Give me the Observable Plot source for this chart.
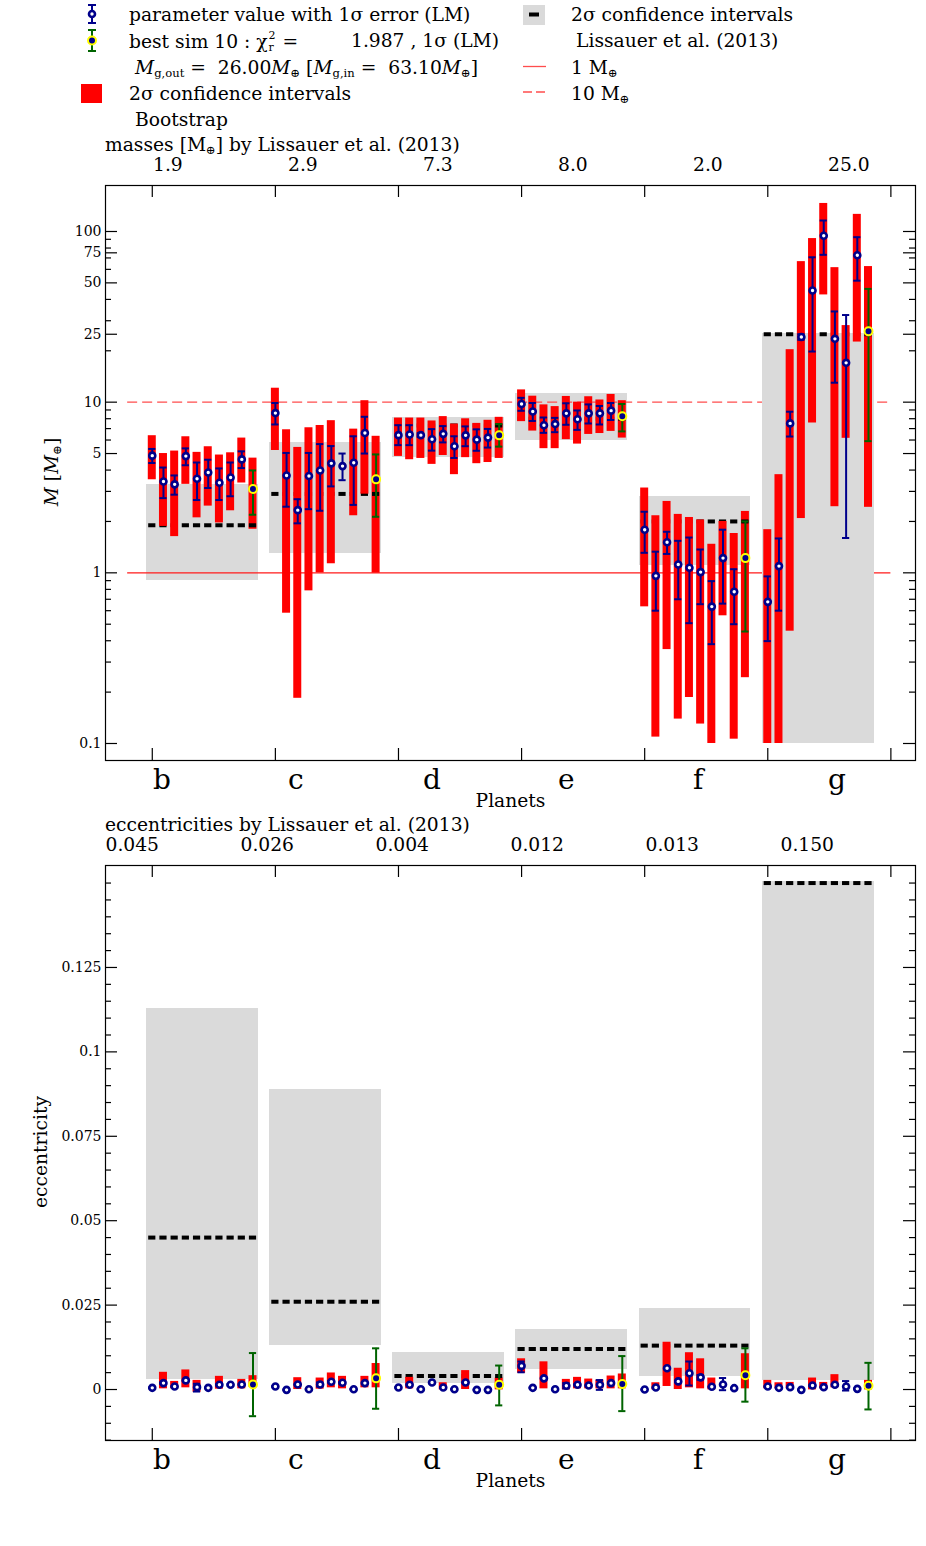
<!DOCTYPE html>
<html><head><meta charset="utf-8">
<script src="https://cdn.jsdelivr.net/npm/d3@7"></script>
<script src="https://cdn.jsdelivr.net/npm/@observablehq/plot@0.6"></script>
<style>
html,body{margin:0;padding:0;background:#fff;}
#wrap{position:relative;width:926px;height:1546px;overflow:hidden;font-family:"DejaVu Serif",serif;color:#000;}
.t{position:absolute;white-space:nowrap;font-size:18.7px;line-height:19px;transform:translateY(-50%);}
.t sub{font-size:0.62em;vertical-align:-0.3em;line-height:0;}
.rot{position:absolute;white-space:nowrap;font-size:18.7px;line-height:19px;transform:translate(-50%,-50%) rotate(-90deg);}
.rot sub{font-size:0.62em;vertical-align:-0.3em;line-height:0;}
.ss{display:inline-block;position:relative;width:9px;height:19px;vertical-align:baseline;}
.ss .sp,.ss .sb{position:absolute;left:1px;font-size:11px;line-height:11px;}
.ss .sp{top:1px;}
.ss .sb{top:13px;}
svg.leg{position:absolute;left:0;top:0;}
.pbox{position:absolute;left:0;}
</style></head>
<body><div id="wrap"></div>
<script>
// ---------- data ----------
const planets = ["b", "c", "d", "e", "f", "g"];
const lissMass = [1.9, 2.9, 7.3, 8.0, 2.0, 25.0];
const lissEcc = [0.045, 0.026, 0.004, 0.012, 0.013, 0.150];
const lissMassLabels = ["1.9", "2.9", "7.3", "8.0", "2.0", "25.0"];
const lissEccLabels = ["0.045", "0.026", "0.004", "0.012", "0.013", "0.150"];
// Lissauer et al. 2σ intervals (grey boxes)
const lissMassLo = [0.90, 1.30, 4.75, 5.95, 1.10, 0.10];
const lissMassHi = [3.28, 5.78, 8.10, 11.3, 2.79, 25.1];
const lissEccLo = [0.0029, 0.0129, 0.0017, 0.0058, 0.0039, 0.0027];
const lissEccHi = [0.1129, 0.0889, 0.0109, 0.0178, 0.0240, 0.1505];

// masses: LM parameter value (sims 1..10, last = best sim 10)
const massPt = [
  [4.86, 3.43, 3.30, 4.83, 3.56, 3.87, 3.37, 3.62, 4.62, 3.10],
  [8.63, 3.72, 2.33, 3.69, 3.98, 4.38, 4.22, 4.42, 6.59, 3.53],
  [6.41, 6.47, 6.41, 6.06, 6.52, 5.52, 6.39, 6.03, 6.20, 6.39],
  [9.76, 8.82, 7.33, 7.44, 8.60, 7.94, 8.60, 8.60, 8.92, 8.26],
  [1.79, 0.96, 1.51, 1.12, 1.07, 1.01, 0.634, 1.22, 0.774, 1.22],
  [0.676, 1.095, 7.51, 24.1, 45.1, 94.4, 23.5, 17.0, 72.6, 26.0]
];
const massErrLo = [
  [4.40, 2.74, 2.87, 4.27, 2.67, 3.14, 2.67, 2.81, 4.11, 2.19],
  [7.40, 2.44, 1.95, 2.36, 2.31, 3.21, 3.49, 2.50, 5.00, 2.13],
  [5.60, 5.60, 6.25, 5.20, 5.81, 4.71, 5.52, 5.19, 5.42, 5.49],
  [8.90, 7.76, 6.61, 6.67, 7.37, 6.88, 7.50, 7.40, 7.86, 6.74],
  [1.31, 0.60, 1.29, 0.70, 0.507, 0.655, 0.382, 0.66, 0.50, 0.453],
  [0.398, 0.60, 6.29, 23.2, 19.8, 73.0, 13.0, 1.60, 51.5, 5.91]
];
const massErrHi = [
  [5.32, 4.14, 3.72, 5.36, 4.43, 4.60, 4.09, 4.43, 5.15, 3.98],
  [9.89, 5.04, 2.70, 5.04, 5.68, 5.53, 5.00, 6.31, 8.21, 4.94],
  [7.33, 7.33, 6.58, 6.95, 7.24, 6.31, 7.21, 6.93, 6.97, 7.44],
  [10.6, 9.89, 8.13, 8.09, 9.85, 8.94, 9.70, 9.50, 9.89, 9.76],
  [2.28, 1.33, 1.74, 1.54, 1.61, 1.37, 0.894, 1.79, 1.05, 2.00],
  [0.953, 1.59, 8.79, 25.0, 70.6, 116, 34.0, 32.4, 92.6, 46.1]
];
// masses: bootstrap 2σ intervals (red)
const massBootLo = [
  [3.51, 1.87, 1.63, 3.30, 2.10, 2.46, 1.96, 2.31, 3.36, 1.80],
  [5.21, 0.58, 0.184, 0.784, 1.00, 1.13, null, 2.16, 2.89, 0.996],
  [4.81, 4.60, 4.68, 4.32, 4.87, 3.76, 4.73, 4.36, 4.43, 4.68],
  [7.69, 6.77, 5.34, 5.34, 6.03, 5.68, 6.47, 6.55, 6.74, 6.16],
  [0.632, 0.109, 0.355, 0.139, 0.186, 0.130, 0.100, 0.56, 0.106, 0.243],
  [0.100, 0.100, 0.455, 2.08, 7.55, 42.5, 2.44, 6.14, 22.5, 2.42]
];
const massBootHi = [
  [6.36, 5.00, 5.17, 6.27, 5.08, 5.48, 4.90, 5.05, 6.16, 4.70],
  [12.07, 6.89, 5.43, 7.08, 7.30, 7.79, null, 6.95, 10.2, 6.31],
  [8.07, 8.07, 8.07, 7.76, 8.23, 7.44, 7.99, 7.51, 7.83, 8.15],
  [11.8, 10.84, 9.64, 9.42, 10.8, 10.0, 10.76, 10.3, 11.1, 10.2],
  [3.14, 2.16, 2.62, 2.20, 2.11, 2.04, 1.47, 2.00, 1.70, 2.29],
  [1.79, 3.76, 20.3, 66.6, 90.9, 146, 61.4, 28.1, 126, 62.3]
];

// eccentricities
const eccPt = [
  [0.0005, 0.0019, 0.0009, 0.0027, 0.0007, 0.0005, 0.0014, 0.0014, 0.0015, 0.0015],
  [0.0009, -0.0001, 0.0015, 0.0001, 0.0015, 0.0023, 0.0020, 0.0001, 0.0019, 0.0033],
  [0.0006, 0.0014, 0.0001, 0.0021, 0.0006, 0.0001, 0.0021, -0.0001, -0.0001, 0.0014],
  [0.0070, 0.0005, 0.0033, 0.0001, 0.0011, 0.0014, 0.0012, 0.0014, 0.0019, 0.0016],
  [0.0000, 0.0006, 0.0063, 0.0024, 0.0048, 0.0036, 0.0008, 0.0015, 0.0004, 0.0042],
  [0.0009, 0.0005, 0.0007, -0.0001, 0.0012, 0.0007, 0.0014, 0.0009, 0.0002, 0.0011]
];
const eccErrLo = [
  [0.0004, 0.0017, 0.0008, 0.0025, -0.0006, 0.0004, 0.0012, 0.0012, 0.0013, -0.0079],
  [0.0008, -0.0002, 0.0013, 0.0000, 0.0009, 0.0021, 0.0018, 0.0000, 0.0017, -0.0057],
  [0.0005, 0.0012, 0.0000, 0.0019, 0.0005, 0.0000, 0.0019, -0.0002, -0.0002, -0.0047],
  [0.0051, 0.0004, 0.0031, 0.0000, 0.0003, 0.0012, 0.0010, -0.0001, 0.0017, -0.0064],
  [-0.0001, 0.0005, 0.0061, 0.0022, 0.0012, 0.0029, 0.0007, -0.0002, 0.0003, -0.0036],
  [0.0008, 0.0004, 0.0006, -0.0002, 0.0010, 0.0006, 0.0012, -0.0003, 0.0001, -0.0059]
];
const eccErrHi = [
  [0.0006, 0.0021, 0.0010, 0.0029, 0.0017, 0.0006, 0.0016, 0.0016, 0.0017, 0.0108],
  [0.0010, 0.0000, 0.0017, 0.0002, 0.0021, 0.0025, 0.0022, 0.0002, 0.0021, 0.0122],
  [0.0007, 0.0016, 0.0002, 0.0023, 0.0007, 0.0002, 0.0023, 0.0000, 0.0000, 0.0071],
  [0.0083, 0.0006, 0.0035, 0.0002, 0.0019, 0.0016, 0.0014, 0.0028, 0.0021, 0.0099],
  [0.0001, 0.0007, 0.0065, 0.0026, 0.0083, 0.0043, 0.0009, 0.0034, 0.0005, 0.0122],
  [0.0010, 0.0006, 0.0008, 0.0000, 0.0014, 0.0008, 0.0016, 0.0025, 0.0003, 0.0079]
];
const eccBootLo = [
  [null, 0.0002, 0.0002, 0.0005, -0.0008, null, 0.0001, null, 0.0002, 0.0007],
  [null, null, 0.0000, null, 0.0001, 0.0005, 0.0002, null, 0.0005, 0.0005],
  [null, 0.0002, null, null, -0.0001, null, 0.0000, null, null, -0.0001],
  [0.0048, null, 0.0002, null, -0.0001, 0.0002, 0.0002, 0.0002, 0.0002, 0.0002],
  [null, -0.0001, 0.0009, 0.0000, 0.0005, 0.0002, -0.0001, null, null, 0.0002],
  [0.0002, 0.0002, 0.0002, null, -0.0001, 0.0002, 0.0005, null, null, -0.0001]
];
const eccBootHi = [
  [null, 0.0051, 0.0024, 0.0058, 0.0027, null, 0.0039, null, 0.0030, 0.0041],
  [null, null, 0.0035, null, 0.0034, 0.0049, 0.0039, null, 0.0039, 0.0077],
  [null, 0.0036, null, null, 0.0020, null, 0.0056, null, null, 0.0034],
  [0.0091, null, 0.0082, null, 0.0030, 0.0036, 0.0031, 0.0028, 0.0040, 0.0046],
  [null, 0.0020, 0.0140, 0.0063, 0.0109, 0.0091, 0.0034, null, null, 0.0106],
  [0.0027, 0.0020, 0.0021, null, 0.0034, 0.0021, 0.0044, null, null, 0.0027]
];

// axis ticks
const massTicksLabeled = [0.1, 1, 5, 10, 25, 50, 75, 100];
const massTicksMinor = [0.2, 0.3, 0.4, 0.5, 0.6, 0.7, 0.8, 0.9, 2, 3, 4, 6, 7, 8, 9, 20, 30, 40, 60, 70, 80, 90];
const eccTicksLabeled = [0, 0.025, 0.05, 0.075, 0.1, 0.125];
const eccTicksMinor = [-0.015, -0.01, -0.005, 0.005, 0.01, 0.015, 0.02, 0.03, 0.035, 0.04, 0.045, 0.055, 0.06, 0.065, 0.07,
  0.08, 0.085, 0.09, 0.095, 0.105, 0.11, 0.115, 0.12, 0.13, 0.135, 0.14, 0.145, 0.15];
const xTicks = [1, 2, 3, 4, 5, 6, 7];
const refMasses = [1, 10];

// ---------- layout ----------
const navy = "#00008b", green = "#006400", yel = "#ffff00";
const X0 = 0.62, X1 = 7.2, W = 926, ML = 105, MR = 11, MT = 55, FH = 575;
const FW = W - ML - MR;
const kx = (X1 - X0) / FW;
const refStart = 0.8, refEnd = 7;

function buildRows(pt, eLo, eHi, bLo, bHi, gLo, gHi, liss) {
  const rows = [];
  planets.forEach((name, i) => {
    for (let k = 0; k < 10; k++) rows.push({
      p: i, best: k === 9, x: i + 1 + k / 11,
      pt: pt[i][k], eLo: eLo[i][k], eHi: eHi[i][k], bLo: bLo[i][k], bHi: bHi[i][k],
      gLo: gLo[i], gHi: gHi[i], liss: liss[i]
    });
  });
  return rows;
}

function panel(rows, o) {
  const gw = 0.5 / 11, hw = 4 * kx, dw = 3.6 * kx, cw = 3.6 * kx;
  const nb = rows.filter(d => !d.best), bs = rows.filter(d => d.best);
  const lblX = off => (d, i) => X0 + (X1 - X0) * (i + off) / 6;
  const bars = (data, col) => [
    Plot.ruleX(data, {x: "x", y1: "eLo", y2: "eHi", stroke: col, strokeWidth: 2}),
    Plot.ruleY(data, {x1: d => d.x - cw, x2: d => d.x + cw, y: "eLo", stroke: col, strokeWidth: 2}),
    Plot.ruleY(data, {x1: d => d.x - cw, x2: d => d.x + cw, y: "eHi", stroke: col, strokeWidth: 2})
  ];
  const tk = {stroke: "#000", strokeWidth: 1.2};
  const grey = {x1: d => d.x - gw, x2: d => d.x + gw, y1: "gLo", y2: "gHi", fill: "#dadada", shapeRendering: "crispEdges"};
  return Plot.plot({
    width: W, height: MT + FH + o.mb,
    marginLeft: ML, marginRight: MR, marginTop: MT, marginBottom: o.mb,
    style: {fontFamily: "DejaVu Serif", fontSize: "14px", background: "transparent", color: "#000"},
    x: {domain: [X0, X1], axis: null},
    y: {type: o.type, domain: o.domain, axis: null},
    marks: [
      Plot.rect(rows.filter(d => d.p < 5), grey),
      ...o.refs,
      Plot.rect(rows.filter(d => d.p === 5), grey),
      Plot.ruleY(nb, {x1: d => d.x - dw, x2: d => d.x + dw, y: "liss", stroke: "#000", strokeWidth: 4}),
      Plot.rect(rows.filter(d => d.bLo != null && d.bHi != null), {x1: d => d.x - hw, x2: d => d.x + hw, y1: "bLo", y2: "bHi", fill: "#ff0000"}),
      Plot.ruleY(bs, {x1: d => d.x - dw, x2: d => d.x + dw, y: "liss", stroke: "#000", strokeWidth: 4}),
      ...bars(nb, navy),
      ...bars(bs, green),
      Plot.dot(nb, {x: "x", y: "pt", r: 3, fill: "#fff", stroke: navy, strokeWidth: 2.6}),
      Plot.dot(bs, {x: "x", y: "pt", r: 4, fill: navy, stroke: yel, strokeWidth: 2}),
      Plot.frame({stroke: "#000", strokeWidth: 1.2}),
      Plot.tickY(o.labeled, {y: d => d, insetRight: FW - 12, ...tk}),
      Plot.tickY(o.labeled, {y: d => d, insetLeft: FW - 12, ...tk}),
      Plot.tickY(o.minor, {y: d => d, insetRight: FW - 6, ...tk}),
      Plot.tickY(o.minor, {y: d => d, insetLeft: FW - 6, ...tk}),
      Plot.tickX(xTicks, {x: d => d, insetBottom: FH - 12, ...tk}),
      Plot.tickX(xTicks, {x: d => d, insetTop: FH - 12, ...tk}),
      Plot.text(o.labeled, {y: d => d, frameAnchor: "left", dx: -4, textAnchor: "end", fontSize: 14, text: d => String(d)}),
      Plot.text(planets, {x: lblX(0.352), frameAnchor: "bottom", dy: 28, textAnchor: "start", fontSize: 28, text: d => d}),
      Plot.text(["Planets"], {frameAnchor: "bottom", dy: 46, fontSize: 18.7, text: d => d}),
      Plot.text(o.topLabels, {x: lblX(o.topOff), frameAnchor: "top", dy: -28, textAnchor: "start", fontSize: 18.7, text: d => d})
    ]
  });
}

const massRows = buildRows(massPt, massErrLo, massErrHi, massBootLo, massBootHi, lissMassLo, lissMassHi, lissMass);
const eccRows = buildRows(eccPt, eccErrLo, eccErrHi, eccBootLo, eccBootHi, lissEccLo, lissEccHi, lissEcc);

const topPlot = panel(massRows, {
  type: "log", domain: [0.0795, 186], mb: 50,
  labeled: massTicksLabeled, minor: massTicksMinor,
  topLabels: lissMassLabels, topOff: 0.352,
  refs: [
    Plot.ruleY(refMasses.slice(0, 1), {y: d => d, x1: refStart, x2: refEnd, stroke: "#ff1a1a", strokeWidth: 1.2}),
    Plot.ruleY(refMasses.slice(1), {y: d => d, x1: refStart, x2: refEnd, stroke: "#ff4d4d", strokeWidth: 1.2, strokeDasharray: "10,5"})
  ]
});
const botPlot = panel(eccRows, {
  type: "linear", domain: [-0.0151, 0.1552], mb: 60,
  labeled: eccTicksLabeled, minor: eccTicksMinor,
  topLabels: lissEccLabels, topOff: 0,
  refs: []
});

const wrap = document.getElementById("wrap");
const b1 = document.createElement("div"); b1.className = "pbox"; b1.style.top = "130px"; b1.appendChild(topPlot); wrap.appendChild(b1);
const b2 = document.createElement("div"); b2.className = "pbox"; b2.style.top = "810px"; b2.appendChild(botPlot); wrap.appendChild(b2);

// legend swatches
const ns = "http://www.w3.org/2000/svg";
const leg = document.createElementNS(ns, "svg");
leg.setAttribute("class", "leg"); leg.setAttribute("width", 926); leg.setAttribute("height", 130);
leg.innerHTML = `
  <line x1="92" y1="5" x2="92" y2="23" stroke="${navy}" stroke-width="2"/>
  <line x1="88" y1="5" x2="96" y2="5" stroke="${navy}" stroke-width="2"/>
  <line x1="88" y1="23" x2="96" y2="23" stroke="${navy}" stroke-width="2"/>
  <circle cx="92" cy="14" r="3" fill="#fff" stroke="${navy}" stroke-width="2.6"/>
  <line x1="92" y1="30" x2="92" y2="51" stroke="${green}" stroke-width="2"/>
  <line x1="88" y1="30" x2="96" y2="30" stroke="${green}" stroke-width="2"/>
  <line x1="88" y1="51" x2="96" y2="51" stroke="${green}" stroke-width="2"/>
  <circle cx="92" cy="40.5" r="4" fill="${navy}" stroke="${yel}" stroke-width="2"/>
  <rect x="81" y="84" width="21" height="19" fill="#ff0000"/>
  <rect x="523" y="5" width="22" height="20" fill="#dadada"/>
  <rect x="529" y="12.5" width="10" height="4" fill="#000"/>
  <line x1="523" y1="66.5" x2="546" y2="66.5" stroke="#ff4d4d" stroke-width="1.3"/>
  <line x1="523" y1="92" x2="546" y2="92" stroke="#ff4d4d" stroke-width="1.3" stroke-dasharray="9,4"/>`;
wrap.appendChild(leg);

function addText(html, left, cy, cls = "t") {
  const d = document.createElement("div");
  d.className = cls; d.innerHTML = html;
  d.style.left = left + "px"; d.style.top = cy + "px";
  wrap.appendChild(d);
  return d;
}
addText("parameter value with 1σ error (LM)", 129, 14);
addText('best sim 10 : χ<span class="ss"><span class="sp">2</span><span class="sb">r</span></span> =', 129, 40);
addText("1.987 , 1σ (LM)", 351, 40);
addText("<i>M</i><sub>g,out</sub> =&nbsp; 26.00<i>M</i><sub>⊕</sub> [<i>M</i><sub>g,in</sub> =&nbsp; 63.10<i>M</i><sub>⊕</sub>]", 135, 67);
addText("2σ confidence intervals", 129, 93);
addText("Bootstrap", 135, 119);
addText("2σ confidence intervals", 571, 14);
addText("Lissauer et al. (2013)", 576, 40);
addText("1 M<sub>⊕</sub>", 571, 67);
addText("10 M<sub>⊕</sub>", 571, 93);
addText("masses [M<sub>⊕</sub>] by Lissauer et al. (2013)", 105, 144);
addText("eccentricities by Lissauer et al. (2013)", 105, 824);
addText("<i>M</i> [<i>M</i><sub>⊕</sub>]", 51, 472, "rot");
addText("eccentricity", 40, 1152, "rot");
</script>
</body></html>
